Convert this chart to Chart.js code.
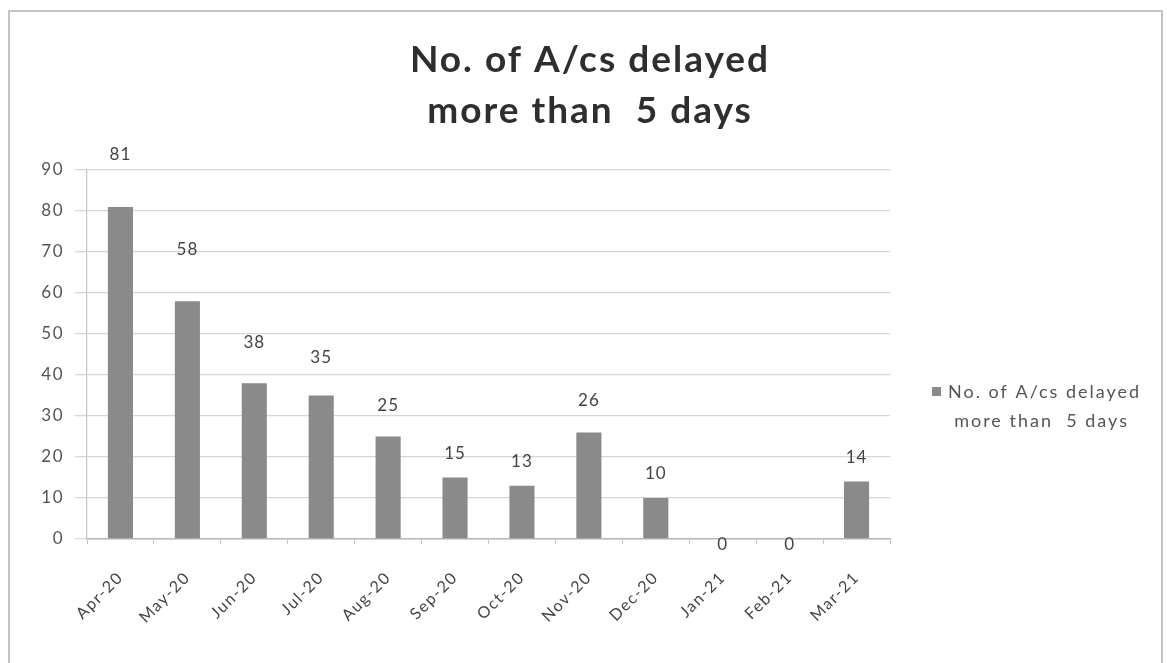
<!DOCTYPE html>
<html>
<head>
<meta charset="utf-8">
<script src="https://cdn.jsdelivr.net/npm/chart.js@4/dist/chart.umd.min.js"></script>
<style>
  html, body { margin: 0; padding: 0; background: #fff; }
  #wrap { position: relative; width: 1167px; height: 663px; }
  #frame { position: absolute; left: 8px; top: 10px; width: 1155px; height: 660px; border: 2px solid #c4c4c4; box-sizing: border-box; }
  canvas { position: absolute; left: 0; top: 0; }
</style>
</head>
<body>
<div id="wrap">
  <div id="frame"></div>
  <canvas id="delayChart" width="1167" height="663"></canvas>
</div>
<script>
// Data
const months = ['Apr-20', 'May-20', 'Jun-20', 'Jul-20', 'Aug-20', 'Sep-20', 'Oct-20', 'Nov-20', 'Dec-20', 'Jan-21', 'Feb-21', 'Mar-21'];
const delayedCounts = [81, 58, 38, 35, 25, 15, 13, 26, 10, 0, 0, 14];
const titleLines = ['No. of A/cs delayed', 'more than  5 days'];
const seriesLabelLines = ['No. of A/cs delayed', 'more than  5 days'];
const yTicks = [0, 10, 20, 30, 40, 50, 60, 70, 80, 90];

const FONT = 'Lato, "Open Sans", "Liberation Sans", sans-serif';

// the picture is a little stretched sideways, so the text gets some spacing
function setSpacing(ctx, px) {
  if ('letterSpacing' in ctx) ctx.letterSpacing = px + 'px';
}

const textPlugin = {
  id: 'textPlugin',
  beforeLayout(chart) { setSpacing(chart.ctx, 1.5); },
  beforeDraw(chart) { setSpacing(chart.ctx, 1.5); },
  afterDatasetsDraw(chart) {
    // value labels over the bars
    const ctx = chart.ctx;
    const meta = chart.getDatasetMeta(0);
    ctx.save();
    setSpacing(ctx, 1);
    ctx.font = '17px ' + FONT;
    ctx.fillStyle = '#444';
    ctx.textAlign = 'center';
    ctx.textBaseline = 'middle';
    meta.data.forEach((bar, i) => {
      const v = delayedCounts[i];
      const lift = v > 0 ? Math.max(24, Math.min(52, v * 0.75 + 12)) : -6;
      ctx.fillText(String(v), bar.x, bar.y - lift);
    });
    ctx.restore();
  },
  afterDraw(chart) {
    const ctx = chart.ctx;
    const area = chart.chartArea;
    ctx.save();

    // title
    setSpacing(ctx, 2);
    ctx.font = 'bold 37px ' + FONT;
    ctx.fillStyle = '#2e2e2e';
    ctx.textAlign = 'center';
    ctx.textBaseline = 'alphabetic';
    const tx = 590;
    ctx.fillText(titleLines[0], tx, area.top - 98);
    ctx.fillText(titleLines[1], tx, area.top - 47);

    // legend
    const lx = area.right + 42;
    const ly = 392;
    ctx.fillStyle = '#8a8a8a';
    ctx.fillRect(lx, ly - 5, 9, 9);
    setSpacing(ctx, 2);
    ctx.font = '18px ' + FONT;
    ctx.fillStyle = '#555';
    ctx.textBaseline = 'middle';
    const w0 = ctx.measureText(seriesLabelLines[0]).width;
    const cx = lx + 16 + w0 / 2;
    ctx.textAlign = 'center';
    ctx.fillText(seriesLabelLines[0], cx, ly);
    ctx.fillText(seriesLabelLines[1], cx - 3, ly + 29);
    ctx.restore();
  }
};

const ctx = document.getElementById('delayChart').getContext('2d');
const chart = new Chart(ctx, {
  type: 'bar',
  data: {
    labels: months,
    datasets: [{
      label: seriesLabelLines.join(' '),
      data: delayedCounts,
      backgroundColor: '#8a8a8a',
      borderWidth: 0,
      barPercentage: 0.75,
      categoryPercentage: 0.5
    }]
  },
  options: {
    responsive: false,
    animation: false,
    layout: {
      padding: { left: 27, right: 277, top: 170, bottom: 24 }
    },
    plugins: {
      legend: { display: false },
      tooltip: { enabled: false },
      title: { display: false }
    },
    scales: {
      x: {
        grid: {
          display: true,
          offset: true,
          drawOnChartArea: false,
          drawTicks: true,
          tickLength: 5,
          color: '#c8c8c8'
        },
        border: { color: '#b8b8b8', width: 1.5 },
        ticks: {
          minRotation: 45,
          maxRotation: 45,
          color: '#444',
          padding: 24,
          font: { family: FONT, size: 16 }
        },
        afterFit(scale) { scale.height = 100; }
      },
      y: {
        min: 0,
        max: 90,
        afterBuildTicks(scale) {
          scale.ticks = yTicks.map(v => ({ value: v }));
        },
        grid: {
          color: '#d6d6d6',
          lineWidth: 1.3,
          tickLength: 12
        },
        border: { color: '#c8c8c8', width: 1.3 },
        ticks: {
          color: '#555',
          padding: 11,
          font: { family: FONT, size: 17 }
        },
        afterFit(scale) { scale.width = 60; }
      }
    }
  },
  plugins: [textPlugin]
});
</script>
</body>
</html>
